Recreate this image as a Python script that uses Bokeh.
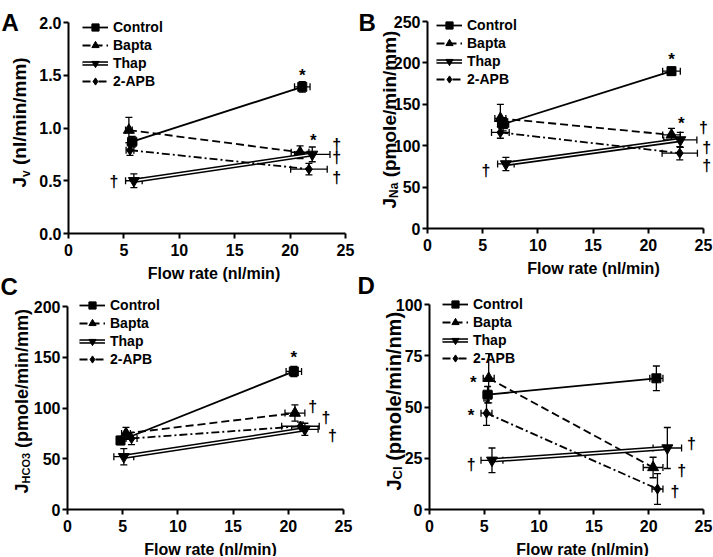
import math
from bokeh.plotting import figure
from bokeh.models import (Range1d, FixedTicker, Whisker, TeeHead, ColumnDataSource,
                          Legend, LegendItem, Label, NumeralTickFormatter)
from bokeh.layouts import column, row
from bokeh.embed import file_html
from bokeh.resources import INLINE
from bokeh.core.properties import value

FONT = "Liberation Sans"
SERIES = ["Control", "Bapta", "Thap", "2-APB"]
FLOW_TICKS = [0, 5, 10, 15, 20, 25]

# ---- Panel A : Jv (nl/min/mm) ----
A_FLOW = [[5.75, 21.1], [5.45, 20.9], [5.9, 22.0], [5.55, 21.7]]
A_FLOW_SEM = [[0.4, 0.7], [0.3, 0.8], [0.75, 1.6], [0.35, 1.65]]
A_JV = [[0.87, 1.39], [0.98, 0.77], [0.50, 0.75], [0.79, 0.61]]
A_JV_SEM = [[0.05, 0.05], [0.12, 0.06], [0.065, 0.07], [0.05, 0.055]]
A_YTICKS = [0.0, 0.5, 1.0, 1.5, 2.0]
A_STAR_X = [21.1, 22.1]
A_STAR_Y = [1.54, 0.92]
A_DAG_X = [4.1, 24.2, 24.2, 24.2]
A_DAG_Y = [0.49, 0.84, 0.72, 0.53]

# ---- Panel B : JNa (pmole/min/mm) ----
B_FLOW = [[6.85, 22.1], [6.6, 22.1], [7.1, 22.9], [6.6, 22.85]]
B_FLOW_SEM = [[0.5, 0.8], [0.5, 0.8], [0.75, 1.5], [0.8, 1.6]]
B_JNA = [[126, 190], [133, 113], [78, 107], [116, 91]]
B_JNA_SEM = [[8, 5], [17, 8], [8, 9], [7, 8]]
B_YTICKS = [0, 50, 100, 150, 200, 250]
B_STAR_X = [22.1, 23.0]
B_STAR_Y = [209, 132]
B_DAG_X = [5.3, 25.0, 25.3, 25.3]
B_DAG_Y = [70, 122, 98, 76]

# ---- Panel C : JHCO3 (pmole/min/mm) ----
C_FLOW = [[4.8, 20.5], [5.3, 20.6], [5.1, 21.5], [5.8, 21.1]]
C_FLOW_SEM = [[0.3, 0.7], [0.4, 0.9], [0.9, 1.2], [0.5, 1.7]]
C_JHCO3 = [[68, 136], [75, 95], [52, 79], [70, 82]]
C_JHCO3_SEM = [[4, 5], [6, 8], [8, 6], [6, 4]]
C_YTICKS = [0, 50, 100, 150, 200]
C_STAR_X = [20.5]
C_STAR_Y = [154]
C_DAG_X = [22.2, 23.4, 24.0]
C_DAG_Y = [101, 91, 73]

# ---- Panel D : JCl (pmole/min/nm) ----
D_FLOW = [[5.3, 20.7], [5.4, 20.4], [5.7, 21.7], [5.2, 20.8]]
D_FLOW_SEM = [[0.4, 0.6], [0.5, 0.9], [1.0, 1.3], [0.5, 0.5]]
D_JCL = [[56, 64], [64, 20.5], [24, 30], [47, 10]]
D_JCL_SEM = [[4, 6], [12, 5], [6, 10], [6, 7.5]]
D_YTICKS = [0, 25, 50, 75, 100]
D_STAR_X = [4.0, 3.8]
D_STAR_Y = [64, 48]
D_DAG_X = [3.8, 23.9, 23.0, 22.4]
D_DAG_Y = [22, 32, 19, 8.6]

STYLE = {
    "Control": dict(dash="solid", marker="square", size=9, double=False),
    "Bapta": dict(dash="8 4", marker="triangle", size=11, double=False),
    "Thap": dict(dash="solid", marker="inverted_triangle", size=11, double=True),
    "2-APB": dict(dash="8 3 2 3", marker="diamond", size=10, double=False),
}

# Arial/Liberation Sans Bold advance widths (per 1000 em)
AW = {"J": 556, "v": 556, "N": 722, "a": 556, "H": 722, "C": 722, "O": 778, "3": 556,
      "l": 278, " ": 278, "(": 333, ")": 333, "n": 611, "/": 278, "m": 889, "i": 278,
      "p": 611, "o": 611, "e": 556}


def tw(s, size):
    return sum(AW.get(c, 556) for c in s) / 1000.0 * size


def add_label(p, x, y, text, size, angle=0.0, align="left"):
    p.add_layout(Label(x=x, y=y, x_units="screen", y_units="screen", text=text,
                       angle=angle, text_align=align, text_baseline="alphabetic",
                       text_font=FONT, text_font_style="bold", text_font_size=f"{size}px",
                       text_color="black"))


def make_panel(flow, flow_sem, jv, jsem, yticks, fmt, star_x, star_y, dag_x, dag_y,
               lay, yt, xt_dx, leg_pos, letters):
    # lay: canvas width, canvas height, frame left, frame top, frame height, px for 0..25
    W, H, left, top, fh, px25 = lay
    ymax = yticks[-1]
    sx = px25 / 25.0
    sy = fh / float(ymax)
    bottom = H - top - fh
    p = figure(width=W, height=H, min_border=0, min_border_left=0, min_border_right=0,
               min_border_top=0, min_border_bottom=0,
               x_range=Range1d(-left / sx, (W - left) / sx),
               y_range=Range1d(-bottom / sy, ymax + top / sy),
               output_backend="svg", toolbar_location=None, tools="")
    p.xgrid.visible = False
    p.ygrid.visible = False
    p.outline_line_color = None
    p.background_fill_color = "white"
    p.border_fill_color = "white"

    for ax in (p.xaxis[0], p.yaxis[0]):
        ax.fixed_location = 0
        ax.axis_line_width = 2
        ax.major_tick_line_width = 2
        ax.major_tick_out = 5
        ax.major_tick_in = 0
        ax.minor_tick_out = 0
        ax.minor_tick_in = 0
        ax.major_label_text_font = FONT
        ax.major_label_text_font_style = "bold"
        ax.major_label_text_font_size = "16px"
        ax.major_label_text_color = "black"
    p.xaxis[0].ticker = FixedTicker(ticks=FLOW_TICKS)
    p.xaxis[0].bounds = (0, 25)
    p.xaxis[0].major_label_standoff = 5
    p.yaxis[0].ticker = FixedTicker(ticks=yticks)
    p.yaxis[0].bounds = (0, ymax)
    p.yaxis[0].major_label_standoff = 2
    if fmt:
        p.yaxis[0].formatter = NumeralTickFormatter(format=fmt)

    items = []
    for i, name in enumerate(SERIES):
        st = STYLE[name]
        xs, ys = flow[i], jv[i]
        rs = []
        if st["double"]:
            rs.append(p.line(xs, ys, line_color="black", line_width=4.5))
            rs.append(p.line(xs, ys, line_color="white", line_width=1.4))
        else:
            rs.append(p.line(xs, ys, line_color="black", line_width=1.8, line_dash=st["dash"]))
        src = ColumnDataSource(dict(
            x=xs, y=ys,
            xl=[a - b for a, b in zip(xs, flow_sem[i])], xu=[a + b for a, b in zip(xs, flow_sem[i])],
            yl=[a - b for a, b in zip(ys, jsem[i])], yu=[a + b for a, b in zip(ys, jsem[i])]))
        p.add_layout(Whisker(source=src, base="x", lower="yl", upper="yu", dimension="height",
                             line_width=1.3, line_color="black",
                             lower_head=TeeHead(size=7, line_width=1.3),
                             upper_head=TeeHead(size=7, line_width=1.3)))
        p.add_layout(Whisker(source=src, base="y", lower="xl", upper="xu", dimension="width",
                             line_width=1.3, line_color="black",
                             lower_head=TeeHead(size=7, line_width=1.3),
                             upper_head=TeeHead(size=7, line_width=1.3)))
        mr = p.scatter("x", "y", source=src, marker=st["marker"], size=st["size"],
                       fill_color="black", line_color="black")
        rs.append(mr)
        items.append(LegendItem(label=name, renderers=rs))

    p.text(x=star_x, y=star_y, text=["*"] * len(star_x), text_font=value(FONT),
           text_font_style="bold", text_font_size="17px", text_align="center",
           text_baseline="middle", y_offset=4, text_color="black")
    p.text(x=dag_x, y=dag_y, text=["\u2020"] * len(dag_x), text_font=value(FONT),
           text_font_style="bold", text_font_size="16px", text_align="center",
           text_baseline="middle", text_color="black")

    n = len(items)
    row_h = 18
    lx, ltop = leg_pos
    legend = Legend(items=items, location=(left + lx, bottom + fh + ltop - n * row_h),
                    label_text_font=FONT, label_text_font_style="bold",
                    label_text_font_size="14px", label_text_color="black",
                    label_height=row_h, glyph_height=row_h, glyph_width=26,
                    label_standoff=5, spacing=0, padding=0, margin=0,
                    border_line_color=None, background_fill_alpha=0)
    p.add_layout(legend)

    # x title
    add_label(p, left + px25 / 2.0 + xt_dx, bottom - 40, "Flow rate (nl/min)", 16, align="center")
    # y title with subscript
    mx, y0, size, sub, sub_size, sub_dx, rest = yt
    y = bottom + y0
    add_label(p, left + mx, y, "J", size, angle=math.pi / 2)
    y += tw("J", size)
    add_label(p, left + mx + sub_dx, y, sub, sub_size, angle=math.pi / 2)
    y += tw(sub, sub_size) + tw(" ", size)
    add_label(p, left + mx, y, rest, size, angle=math.pi / 2)
    # panel letters (canvas coordinates, from bottom-left)
    for letter, lxp, lyp in letters:
        add_label(p, lxp, lyp, letter, 24)
    return p


# layout: (canvas width, canvas height, frame left, frame top, frame height, pixels 0..25)
LAY_A = (356, 296, 68, 22, 211, 277)
LAY_C = (356, 260, 67, 10, 203, 276)
LAY_B = (357, 294, 71, 21, 207, 276)
LAY_D = (357, 262, 73, 10, 205, 274)

pA = make_panel(A_FLOW, A_FLOW_SEM, A_JV, A_JV_SEM, A_YTICKS, "0.0",
                A_STAR_X, A_STAR_Y, A_DAG_X, A_DAG_Y, LAY_A,
                (-49, 46, 19, "v", 12, 6, "(nl/min/mm)"), 7, (14, 4),
                [("A", 1, 274), ("C", 0, 10)])
pC = make_panel(C_FLOW, C_FLOW_SEM, C_JHCO3, C_JHCO3_SEM, C_YTICKS, None,
                C_STAR_X, C_STAR_Y, C_DAG_X, C_DAG_Y, LAY_C,
                (-45.5, 16, 18, "HCO3", 11, 4, "(pmole/min/mm)"), 5, (12, 10), [])
pB = make_panel(B_FLOW, B_FLOW_SEM, B_JNA, B_JNA_SEM, B_YTICKS, None,
                B_STAR_X, B_STAR_Y, B_DAG_X, B_DAG_Y, LAY_B,
                (-38, 20, 19, "Na", 12, 4, "(pmole/min/mm)"), 28, (9, 5),
                [("B", 2, 272), ("D", 1, 9)])
pD = make_panel(D_FLOW, D_FLOW_SEM, D_JCL, D_JCL_SEM, D_YTICKS, None,
                D_STAR_X, D_STAR_Y, D_DAG_X, D_DAG_Y, LAY_D,
                (-36, 19, 20, "Cl", 13, 4, "(pmole/min/nm)"), 16, (13, 9), [])

layout = row(column(pA, pC, spacing=0), column(pB, pD, spacing=0), spacing=0)
open("out.html", "w").write(file_html(layout, INLINE))
